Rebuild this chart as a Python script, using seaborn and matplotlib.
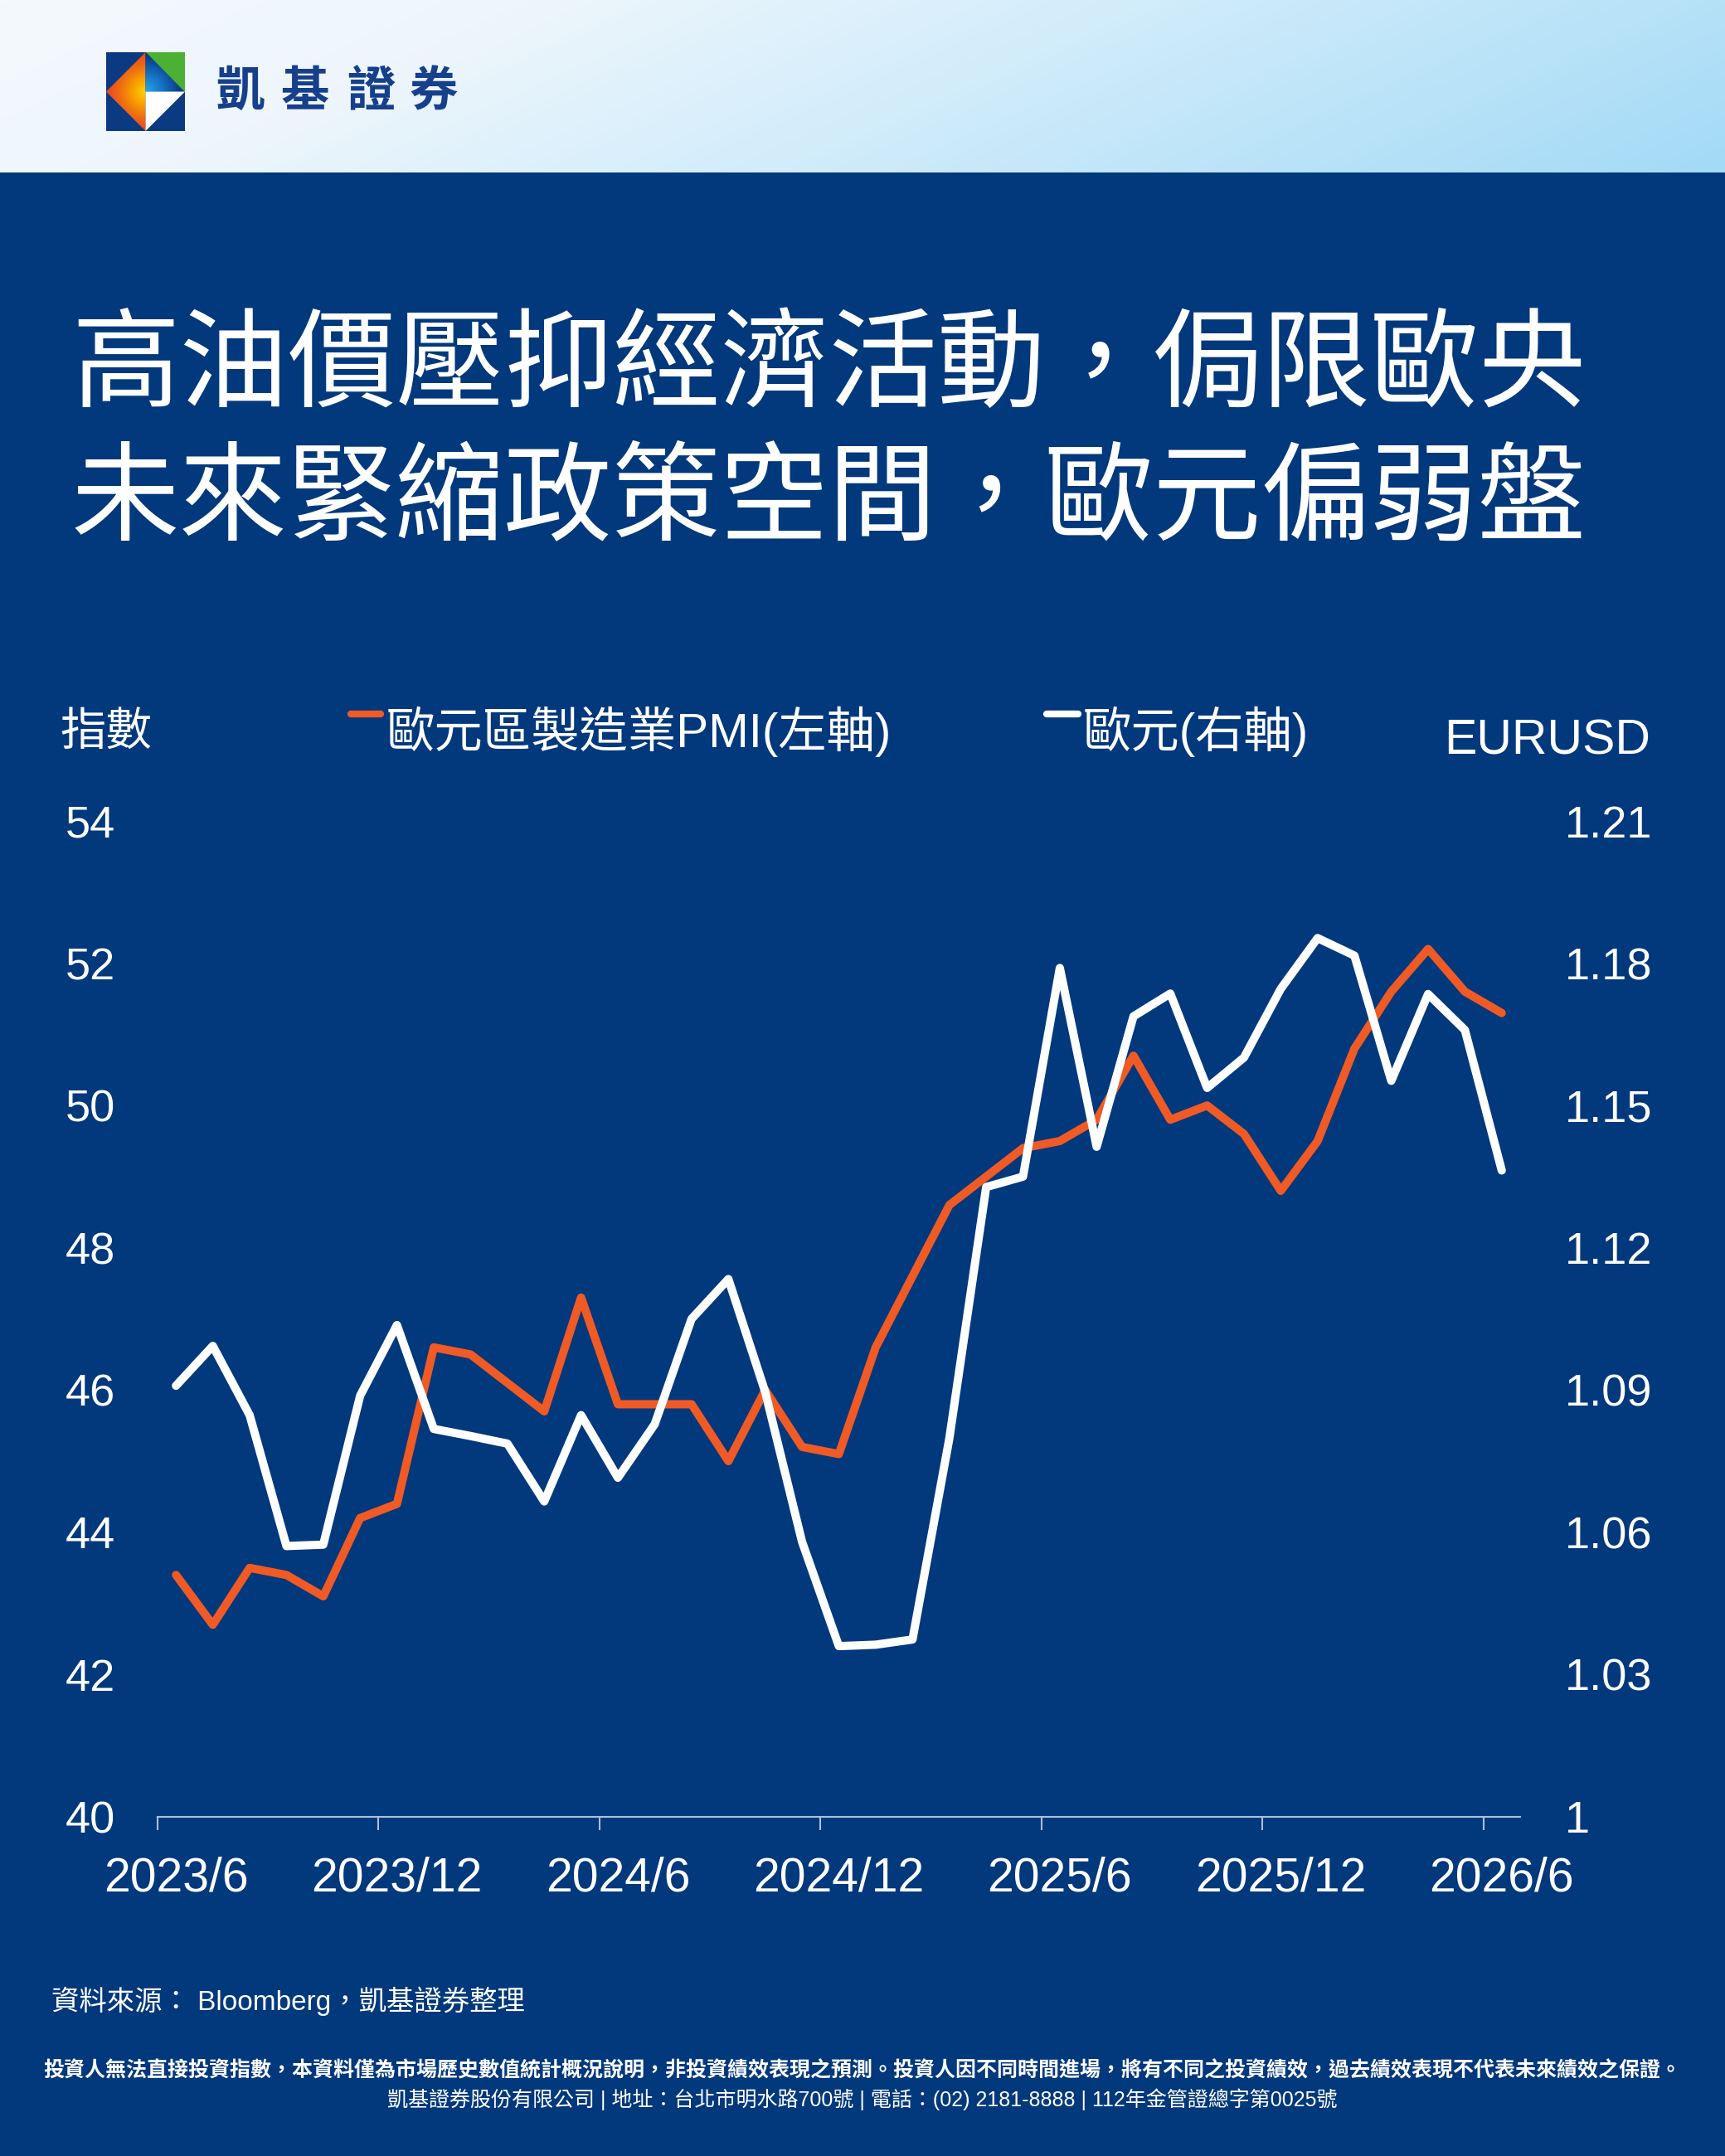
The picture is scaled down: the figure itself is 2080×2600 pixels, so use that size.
import numpy as np
import pandas as pd
import matplotlib
matplotlib.use("Agg")
import matplotlib.pyplot as plt
from matplotlib.colors import LinearSegmentedColormap
from matplotlib.patches import Polygon, Rectangle
from matplotlib.lines import Line2D
import seaborn as sns

# ---- data ----
months = pd.period_range("2023-06", "2026-06", freq="M").strftime("%Y/%-m")
pmi = [43.4, 42.7, 43.5, 43.4, 43.1, 44.2, 44.4, 46.6, 46.5, 46.1, 45.7, 47.3,
       45.8, 45.8, 45.8, 45.0, 46.0, 45.2, 45.1, 46.6, 47.6, 48.6, 49.0, 49.4,
       49.5, 49.8, 50.7, 49.8, 50.0, 49.6, 48.8, 49.5, 50.8, 51.6, 52.2, 51.6, 51.3]
eurusd = [1.0909, 1.0993, 1.0847, 1.0571, 1.0574, 1.0888, 1.1037, 1.0818, 1.0803,
          1.0787, 1.0665, 1.0847, 1.0715, 1.0828, 1.1050, 1.1134, 1.0896, 1.0580,
          1.0360, 1.0363, 1.0374, 1.0798, 1.1328, 1.1350, 1.1790, 1.1413, 1.1688,
          1.1736, 1.1537, 1.1601, 1.1746, 1.1853, 1.1816, 1.1552, 1.1735, 1.1659, 1.1363]
pmi_ticks = [40, 42, 44, 46, 48, 50, 52, 54]
eur_ticks = [1.00, 1.03, 1.06, 1.09, 1.12, 1.15, 1.18, 1.21]
eur_labels = ["1", "1.03", "1.06", "1.09", "1.12", "1.15", "1.18", "1.21"]
x_label_every = 6

title_lines = ["高油價壓抑經濟活動，侷限歐央", "未來緊縮政策空間，歐元偏弱盤"]
legend_pmi = "歐元區製造業PMI(左軸)"
legend_eur = "歐元(右軸)"
source_text = "資料來源： Bloomberg，凱基證券整理"
disclaimer = ("投資人無法直接投資指數，本資料僅為市場歷史數值統計概況說明，非投資績效表現之預測。"
              "投資人因不同時間進場，將有不同之投資績效，過去績效表現不代表未來績效之保證。")
company_line = "凱基證券股份有限公司 | 地址：台北市明水路700號 | 電話：(02) 2181-8888 | 112年金管證總字第0025號"

df = pd.DataFrame({"month": months, "pmi": pmi, "eurusd": eurusd})
df["pos"] = np.arange(len(df))

# ---- style ----
NAVY = "#02387c"
ORANGE = "#f05a24"
AXIS_C = "#aebfdb"
LOGO_NAVY = "#0b3a82"
TEXT_NAVY = "#163f8c"

sns.set_style("white")
plt.rcParams["font.family"] = ["Liberation Sans", "Noto Sans CJK TC"]
CJK = ["Noto Sans CJK TC", "Liberation Sans"]

W, H = 2080, 2600
fig = plt.figure(figsize=(W / 100, H / 100), dpi=100)
fig.patch.set_facecolor(NAVY)


def fx(px):
    return px / W


def fy(py):
    return 1 - py / H


# ---- header band with gradient ----
hdr = fig.add_axes([0, fy(208), 1, 208 / H])
gx = np.linspace(0, 1, 500)
gy = np.linspace(0, 1, 60)
grad = 0.82 * gx[None, :] + 0.18 * gy[:, None]
hdr_cmap = LinearSegmentedColormap.from_list(
    "hdr", [(0, "#f4f9fd"), (0.25, "#eef6fc"), (0.5, "#d6eefb"), (1, "#a3daf6")])
hdr.imshow(grad, cmap=hdr_cmap, aspect="auto", extent=[0, 1, 0, 1], origin="upper", vmin=0, vmax=1)
hdr.set_axis_off()

# ---- logo ----
lg = fig.add_axes([fx(128), fy(158), 95 / W, 95 / H])
lg.set_xlim(0, 1)
lg.set_ylim(0, 1)
lg.set_axis_off()
lg.add_patch(Rectangle((0, 0), 1, 1, color=LOGO_NAVY, lw=0))
rx, ry = np.meshgrid(np.linspace(0, 1, 200), np.linspace(0, 1, 200))
rad = np.hypot(rx - 0.5, ry - 0.5) / 0.5
warm = LinearSegmentedColormap.from_list("warm", ["#ffd200", "#f7a000", "#ee6a14", "#e8461e"])
cool = LinearSegmentedColormap.from_list("cool", ["#2aa9ee", "#1572c4", "#0b3a82"])
left_tri = Polygon([(0.5, 1), (0, 0.5), (0.5, 0)], closed=True, transform=lg.transData)
im1 = lg.imshow(rad, cmap=warm, extent=[0, 1, 0, 1], origin="lower", vmin=0, vmax=1, zorder=2)
im1.set_clip_path(left_tri)
blue_tri = Polygon([(0.5, 1), (1, 0.5), (0.5, 0.5)], closed=True, transform=lg.transData)
im2 = lg.imshow(rad, cmap=cool, extent=[0, 1, 0, 1], origin="lower", vmin=0, vmax=0.9, zorder=2)
im2.set_clip_path(blue_tri)
lg.add_patch(Polygon([(0.5, 1), (1, 1), (1, 0.5)], closed=True, color="#4cb035", lw=0, zorder=3))
lg.add_patch(Polygon([(0.5, 0.5), (1, 0.5), (0.5, 0)], closed=True, color="white", lw=0, zorder=3))

for ch, cx in zip("凱基證券", [290, 368, 447, 523]):
    fig.text(fx(cx), fy(111), ch, ha="center", va="center", fontsize=42,
             fontweight="bold", color=TEXT_NAVY, family=CJK)

# ---- title ----
for line, cy in zip(title_lines, [444, 604]):
    fig.text(fx(86), fy(cy), line, ha="left", va="center", fontsize=94,
             color="white", family=CJK)

# ---- chart ----
ax = fig.add_axes([fx(190), fy(2191), (1833 - 190) / W, (2191 - 990) / H])
ax.set_facecolor("none")
sns.lineplot(data=df, x="pos", y="pmi", ax=ax, color=ORANGE, linewidth=7.2,
             solid_capstyle="round", solid_joinstyle="round")
ax2 = ax.twinx()
sns.lineplot(data=df, x="pos", y="eurusd", ax=ax2, color="white", linewidth=7.2,
             solid_capstyle="round", solid_joinstyle="round")

ax.set_xlim(-0.5, len(df) - 0.5)
ax.set_ylim(pmi_ticks[0], pmi_ticks[-1])
ax2.set_ylim(eur_ticks[0], eur_ticks[-1])
ax.set_xlabel("")
ax.set_ylabel("")
ax2.set_ylabel("")

ax.set_xticks(df["pos"][::x_label_every])
ax.set_xticklabels(df["month"][::x_label_every])
ax.set_xticks(np.arange(-0.5, len(df) - 1, x_label_every), minor=True)
ax.set_yticks(pmi_ticks)
ax.set_yticklabels([str(t) for t in pmi_ticks])
ax2.set_yticks(eur_ticks)
ax2.set_yticklabels(eur_labels)

ax.tick_params(axis="x", which="both", bottom=True)
ax.tick_params(axis="x", which="major", length=0, pad=34, labelsize=41, labelcolor="white")
ax.tick_params(axis="x", which="minor", length=11.5, width=1.5, color=AXIS_C, direction="out")
ax.tick_params(axis="y", length=0, pad=37, labelsize=39, labelcolor="white")
ax2.tick_params(axis="y", length=0, pad=38.5, labelsize=39, labelcolor="white")
ax.grid(False)
ax2.grid(False)
for side in ["top", "left", "right"]:
    ax.spines[side].set_visible(False)
ax.spines["bottom"].set_color(AXIS_C)
ax.spines["bottom"].set_linewidth(1.5)
for side in ax2.spines:
    ax2.spines[side].set_visible(False)

# ---- axis titles and legend ----
fig.text(fx(72), fy(883), "指數", ha="left", va="center", fontsize=40, color="white", family=CJK)
fig.text(fx(1990), fy(894), "EURUSD", ha="right", va="center", fontsize=42.5, color="white")
fig.add_artist(Line2D([fx(423), fx(459)], [fy(861), fy(861)], color=ORANGE, lw=6,
                      solid_capstyle="round", transform=fig.transFigure))
fig.text(fx(466), fy(882), legend_pmi, ha="left", va="center", fontsize=42, color="white")
fig.add_artist(Line2D([fx(1262), fx(1300)], [fy(861), fy(861)], color="white", lw=6,
                      solid_capstyle="round", transform=fig.transFigure))
fig.text(fx(1306), fy(882), legend_eur, ha="left", va="center", fontsize=42, color="white")

# ---- footer ----
fig.text(fx(62), fy(2413), source_text, ha="left", va="center", fontsize=24, color="white")
fig.text(0.5, fy(2497), disclaimer, ha="center", va="center", fontsize=18,
         fontweight="bold", color="white", family=CJK)
fig.text(0.5, fy(2532), company_line, ha="center", va="center", fontsize=18, color="white")

fig.savefig("out.png", dpi=100, facecolor=fig.get_facecolor())
